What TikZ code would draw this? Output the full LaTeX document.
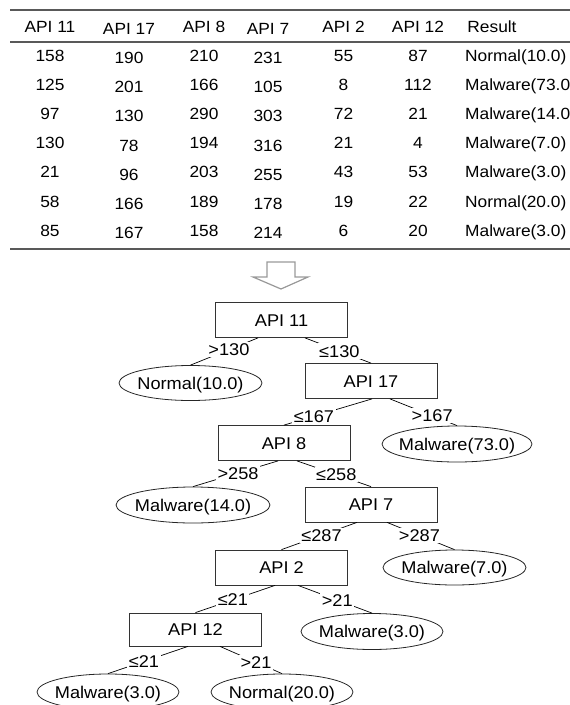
\documentclass[tikz,border=0pt]{standalone}
\usepackage{fontspec}
\setmainfont{Liberation Sans}[FakeStretch=1.07]
\usetikzlibrary{shapes.geometric}

\newcommand{\leaftext}[1]{\makebox[0pt]{#1}}

\begin{document}
\begin{tikzpicture}[x=1pt, y=-1pt,
  every node/.style={font=\fontsize{17}{19}\selectfont, text height=12.2pt, text depth=0pt, inner sep=0pt},
  cell/.style={font=\fontsize{16.2}{18}\selectfont, text height=11.7pt},
  rule/.style={draw=black!65, line width=1.3pt},
  apibox/.style={draw=black!80, line width=0.8pt, minimum width=132, minimum height=35},
  leaf/.style={draw=black!85, ellipse, line width=0.8pt, minimum width=143, minimum height=35},
  cut/.style={fill=white, inner sep=1.5pt},
  edge/.style={line width=0.7pt}]
\useasboundingbox (0,0) rectangle (570,705);
\clip (0,0) rectangle (570,705);
% Table rules
\draw[rule] (10,10) -- (570,10);
\draw[rule] (10,42) -- (570,42);
\draw[rule] (10,249) -- (570,249);
% Header row
\foreach \name/\x/\dy [count=\j] in {API 11/50/0, API 17/129/2.5, API 8/204/0, API 7/268/2.5, API 2/343.5/0, API 12/418/0, Result/492/0}
  \node[cell] (h\j) at (\x,26.2+\dy) {\name};
% Data rows (columns 2 and 4 sit a little lower)
\foreach \a/\b/\c/\d/\e/\f/\res [count=\i] in {
    158/190/210/231/55/87/Normal(10.0),
    125/201/166/105/8/112/Malware(73.0),
    97/130/290/303/72/21/Malware(14.0),
    130/78/194/316/21/4/Malware(7.0),
    21/96/203/255/43/53/Malware(3.0),
    58/166/189/178/19/22/Normal(20.0),
    85/167/158/214/6/20/Malware(3.0)} {
  \pgfmathsetmacro\yy{55.2+29.2*(\i-1)}
  \node[cell] (r\i-1) at (50,\yy) {\a};
  \node[cell] (r\i-2) at (129,\yy+2.5) {\b};
  \node[cell] (r\i-3) at (204,\yy) {\c};
  \node[cell] (r\i-4) at (268,\yy+2.5) {\d};
  \node[cell] (r\i-5) at (343.5,\yy) {\e};
  \node[cell] (r\i-6) at (418,\yy) {\f};
  \node[cell, anchor=west] (r\i-7) at (465,\yy) {\res};
}
% Hollow arrow down to the tree
\draw[draw=black!40, line width=1.2pt, line join=miter]
  (267,262) -- (295,262) -- (295,277) -- (308,277) -- (281,289) -- (253,277) -- (267,277) -- cycle;
% Decision tree
\node[apibox] (api11) at (281.5,320) {API 11};
\node[leaf, minimum width=143] (n10) at (190.5,383) {\leaftext{Normal(10.0)}};
\node[apibox] (api17) at (371,381) {API 17};
\node[apibox] (api8) at (284,443) {API 8};
\node[leaf, minimum width=150, minimum height=36] (m73) at (457,444) {\leaftext{Malware(73.0)}};
\node[leaf, minimum width=154, minimum height=36] (m14) at (193,505) {\leaftext{Malware(14.0)}};
\node[apibox] (api7) at (371,504.5) {API 7};
\node[apibox] (api2) at (281.5,567.5) {API 2};
\node[leaf] (m7) at (454.5,567.5) {\leaftext{Malware(7.0)}};
\node[apibox, minimum height=33] (api12) at (195.5,629.5) {API 12};
\node[leaf, minimum width=142, minimum height=36] (m3) at (372,631.5) {\leaftext{Malware(3.0)}};
\node[leaf, minimum width=142, minimum height=36] (m3b) at (108,692) {\leaftext{Malware(3.0)}};
\node[leaf, minimum width=142, minimum height=36] (n20) at (282,692) {\leaftext{Normal(20.0)}};
% Branches with their split values
\draw[edge] ([xshift=-23.5]api11.south) -- node[cut, pos=0.43] {>130} (n10.north);
\draw[edge] ([xshift=23.5]api11.south) -- node[cut, pos=0.52] {≤130} (api17.north);
\draw[edge] ([xshift=1]api17.south) -- node[cut, pos=0.66] {≤167} (api8.north);
\draw[edge] ([xshift=19]api17.south) -- node[cut, pos=0.63] {>167} (m73.north);
\draw[edge] ([xshift=-6]api8.south) -- node[cut, pos=0.47] {>258} (m14.north);
\draw[edge] ([xshift=13]api8.south) -- node[cut, pos=0.53] {≤258} (api7.north);
\draw[edge] ([xshift=-14]api7.south) -- node[cut, pos=0.47] {≤287} (api2.north);
\draw[edge] ([xshift=16]api7.south) -- node[cut, pos=0.48] {>287} (m7.north);
\draw[edge] ([xshift=-6.5]api2.south) -- node[cut, pos=0.53] {≤21} (api12.north);
\draw[edge] ([xshift=16.5]api2.south) -- node[cut, pos=0.53] {>21} (m3.north);
\draw[edge] ([xshift=-7.5]api12.south) -- node[cut, pos=0.55] {≤21} (m3b.north);
\draw[edge] ([xshift=24.5]api12.south) -- node[cut, pos=0.58] {>21} (n20.north);
\end{tikzpicture}
\end{document}
